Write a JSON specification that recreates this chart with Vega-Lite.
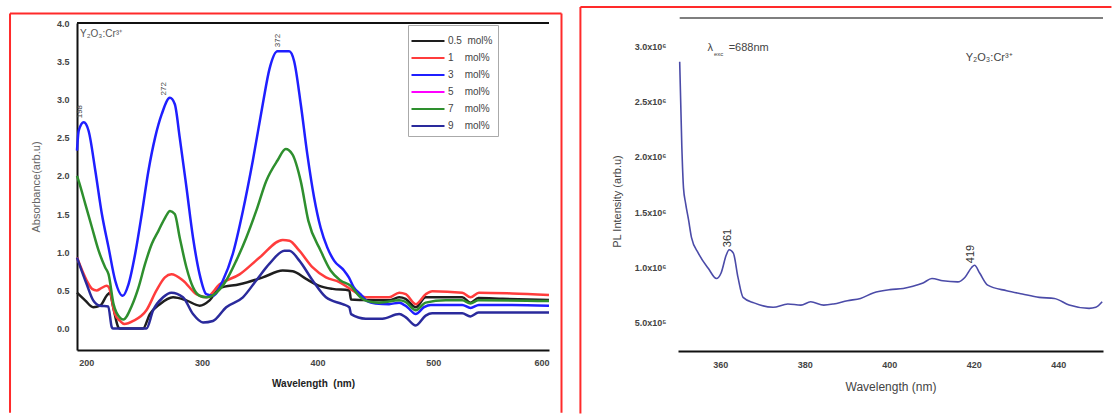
{
  "$schema": "https://vega.github.io/schema/vega-lite/v6.json",
  "padding": {"left": 9, "top": 5, "right": 0, "bottom": 0},
  "spacing": 16,
  "config": {
    "font": "Liberation Sans",
    "view": {"stroke": null},
    "axis": {"grid": false, "tickSize": 0, "labelFont": "Liberation Sans", "titleFont": "Liberation Sans"}
  },
  "datasets": {
    "frameL1": [{"a":134.1,"b":134.1,"c":-1.1,"d":4.124},{"a":134.1,"b":610.8,"c":4.124,"d":4.124}],
    "frameL2": [{"a":610.8,"b":610.8,"c":-1.1,"d":4.124}],
    "frameR": [{"a":326.9,"b":326.9,"c":-320000,"d":3355000},{"a":326.9,"b":452.6,"c":3355000,"d":3355000}],
    "topL": [{"a":192,"b":600,"c":4.0}],
    "topR": [{"a":350.4,"b":450.6,"c":3255000}],
    "abs": [
      {"s":"0.5 mol%","w":192,"v":0.47},{"s":"0.5 mol%","w":199,"v":0.37},{"s":"0.5 mol%","w":206,"v":0.28},{"s":"0.5 mol%","w":212,"v":0.30},{"s":"0.5 mol%","w":217.6,"v":0.43},{"s":"0.5 mol%","w":220.4,"v":0.47},{"s":"0.5 mol%","w":223.3,"v":0.28},{"s":"0.5 mol%","w":227.6,"v":0.02},{"s":"0.5 mol%","w":229,"v":0},{"s":"0.5 mol%","w":249,"v":0},{"s":"0.5 mol%","w":255,"v":0.19},{"s":"0.5 mol%","w":263.6,"v":0.32},{"s":"0.5 mol%","w":275,"v":0.41},{"s":"0.5 mol%","w":286.5,"v":0.37},{"s":"0.5 mol%","w":298,"v":0.30},{"s":"0.5 mol%","w":306.6,"v":0.37},{"s":"0.5 mol%","w":315.3,"v":0.53},{"s":"0.5 mol%","w":332.5,"v":0.58},{"s":"0.5 mol%","w":352.6,"v":0.67},{"s":"0.5 mol%","w":369.8,"v":0.76},{"s":"0.5 mol%","w":378.5,"v":0.75},{"s":"0.5 mol%","w":390,"v":0.65},{"s":"0.5 mol%","w":401.5,"v":0.56},{"s":"0.5 mol%","w":413,"v":0.52},{"s":"0.5 mol%","w":427.4,"v":0.50},{"s":"0.5 mol%","w":428.9,"v":0.38},{"s":"0.5 mol%","w":438.9,"v":0.375},{"s":"0.5 mol%","w":461.8,"v":0.37},{"s":"0.5 mol%","w":470.5,"v":0.41},{"s":"0.5 mol%","w":476,"v":0.39},{"s":"0.5 mol%","w":484.8,"v":0.28},{"s":"0.5 mol%","w":493.4,"v":0.41},{"s":"0.5 mol%","w":499,"v":0.41},{"s":"0.5 mol%","w":525,"v":0.41},{"s":"0.5 mol%","w":532,"v":0.34},{"s":"0.5 mol%","w":539,"v":0.40},{"s":"0.5 mol%","w":560,"v":0.39},{"s":"0.5 mol%","w":600,"v":0.375},
      {"s":"1 mol%","w":192,"v":0.93},{"s":"1 mol%","w":200.4,"v":0.63},{"s":"1 mol%","w":205,"v":0.52},{"s":"1 mol%","w":209,"v":0.50},{"s":"1 mol%","w":213,"v":0.53},{"s":"1 mol%","w":217.6,"v":0.56},{"s":"1 mol%","w":219.5,"v":0.54},{"s":"1 mol%","w":224.8,"v":0.19},{"s":"1 mol%","w":229.3,"v":0.10},{"s":"1 mol%","w":233,"v":0.06},{"s":"1 mol%","w":240.6,"v":0.10},{"s":"1 mol%","w":252,"v":0.24},{"s":"1 mol%","w":260.7,"v":0.50},{"s":"1 mol%","w":268,"v":0.67},{"s":"1 mol%","w":273.6,"v":0.71},{"s":"1 mol%","w":283.6,"v":0.63},{"s":"1 mol%","w":295.2,"v":0.45},{"s":"1 mol%","w":303.8,"v":0.41},{"s":"1 mol%","w":315.3,"v":0.58},{"s":"1 mol%","w":332.5,"v":0.71},{"s":"1 mol%","w":349.8,"v":0.93},{"s":"1 mol%","w":369.8,"v":1.16},{"s":"1 mol%","w":375.6,"v":1.15},{"s":"1 mol%","w":384.2,"v":1.02},{"s":"1 mol%","w":395.7,"v":0.80},{"s":"1 mol%","w":407.2,"v":0.67},{"s":"1 mol%","w":418.7,"v":0.61},{"s":"1 mol%","w":430.2,"v":0.50},{"s":"1 mol%","w":441.6,"v":0.41},{"s":"1 mol%","w":461.8,"v":0.41},{"s":"1 mol%","w":470.5,"v":0.47},{"s":"1 mol%","w":476.2,"v":0.45},{"s":"1 mol%","w":484.8,"v":0.32},{"s":"1 mol%","w":493.4,"v":0.45},{"s":"1 mol%","w":499.2,"v":0.49},{"s":"1 mol%","w":525,"v":0.47},{"s":"1 mol%","w":532.2,"v":0.41},{"s":"1 mol%","w":539.4,"v":0.47},{"s":"1 mol%","w":568,"v":0.46},{"s":"1 mol%","w":600,"v":0.44},
      {"s":"3 mol%","w":192,"v":2.33},{"s":"3 mol%","w":193.5,"v":2.59},{"s":"3 mol%","w":197.8,"v":2.70},{"s":"3 mol%","w":202,"v":2.59},{"s":"3 mol%","w":207.8,"v":2.07},{"s":"3 mol%","w":213.5,"v":1.50},{"s":"3 mol%","w":219.3,"v":1.06},{"s":"3 mol%","w":225,"v":0.63},{"s":"3 mol%","w":231.5,"v":0.43},{"s":"3 mol%","w":236.5,"v":0.58},{"s":"3 mol%","w":242.3,"v":0.98},{"s":"3 mol%","w":248,"v":1.50},{"s":"3 mol%","w":253.8,"v":2.07},{"s":"3 mol%","w":259.5,"v":2.50},{"s":"3 mol%","w":265.3,"v":2.81},{"s":"3 mol%","w":272.3,"v":3.02},{"s":"3 mol%","w":276.5,"v":2.94},{"s":"3 mol%","w":280.8,"v":2.50},{"s":"3 mol%","w":286.6,"v":1.85},{"s":"3 mol%","w":292.3,"v":1.19},{"s":"3 mol%","w":298,"v":0.71},{"s":"3 mol%","w":303.8,"v":0.45},{"s":"3 mol%","w":309.5,"v":0.43},{"s":"3 mol%","w":318.1,"v":0.63},{"s":"3 mol%","w":326.7,"v":0.98},{"s":"3 mol%","w":335.4,"v":1.54},{"s":"3 mol%","w":344,"v":2.20},{"s":"3 mol%","w":352.6,"v":2.94},{"s":"3 mol%","w":358.4,"v":3.40},{"s":"3 mol%","w":365.3,"v":3.63},{"s":"3 mol%","w":375.4,"v":3.63},{"s":"3 mol%","w":379.7,"v":3.50},{"s":"3 mol%","w":385.4,"v":2.94},{"s":"3 mol%","w":391.1,"v":2.28},{"s":"3 mol%","w":396.9,"v":1.72},{"s":"3 mol%","w":402.6,"v":1.32},{"s":"3 mol%","w":408.4,"v":1.06},{"s":"3 mol%","w":414.2,"v":0.89},{"s":"3 mol%","w":422.8,"v":0.76},{"s":"3 mol%","w":427,"v":0.67},{"s":"3 mol%","w":431.3,"v":0.54},{"s":"3 mol%","w":437,"v":0.45},{"s":"3 mol%","w":442.9,"v":0.36},{"s":"3 mol%","w":450,"v":0.33},{"s":"3 mol%","w":461.8,"v":0.32},{"s":"3 mol%","w":470.5,"v":0.34},{"s":"3 mol%","w":477.6,"v":0.28},{"s":"3 mol%","w":484.8,"v":0.19},{"s":"3 mol%","w":492,"v":0.28},{"s":"3 mol%","w":497.8,"v":0.31},{"s":"3 mol%","w":525,"v":0.31},{"s":"3 mol%","w":532.2,"v":0.27},{"s":"3 mol%","w":539.4,"v":0.31},{"s":"3 mol%","w":568,"v":0.31},{"s":"3 mol%","w":600,"v":0.30},
      {"s":"7 mol%","w":192,"v":2.00},{"s":"7 mol%","w":193.5,"v":1.93},{"s":"7 mol%","w":199.2,"v":1.63},{"s":"7 mol%","w":205,"v":1.32},{"s":"7 mol%","w":210.7,"v":1.02},{"s":"7 mol%","w":216.4,"v":0.80},{"s":"7 mol%","w":219.3,"v":0.71},{"s":"7 mol%","w":223.6,"v":0.32},{"s":"7 mol%","w":229.3,"v":0.14},{"s":"7 mol%","w":232,"v":0.12},{"s":"7 mol%","w":239.4,"v":0.30},{"s":"7 mol%","w":245.2,"v":0.54},{"s":"7 mol%","w":250.9,"v":0.85},{"s":"7 mol%","w":256.7,"v":1.11},{"s":"7 mol%","w":262.4,"v":1.28},{"s":"7 mol%","w":268.1,"v":1.45},{"s":"7 mol%","w":272.4,"v":1.54},{"s":"7 mol%","w":276.5,"v":1.50},{"s":"7 mol%","w":280.8,"v":1.19},{"s":"7 mol%","w":286.6,"v":0.80},{"s":"7 mol%","w":292.3,"v":0.54},{"s":"7 mol%","w":298,"v":0.43},{"s":"7 mol%","w":303.8,"v":0.41},{"s":"7 mol%","w":312.4,"v":0.47},{"s":"7 mol%","w":321,"v":0.63},{"s":"7 mol%","w":329.7,"v":0.89},{"s":"7 mol%","w":338.3,"v":1.19},{"s":"7 mol%","w":346.9,"v":1.54},{"s":"7 mol%","w":355.5,"v":1.93},{"s":"7 mol%","w":365.3,"v":2.20},{"s":"7 mol%","w":372.4,"v":2.35},{"s":"7 mol%","w":378.2,"v":2.28},{"s":"7 mol%","w":385.4,"v":1.93},{"s":"7 mol%","w":392,"v":1.41},{"s":"7 mol%","w":402.6,"v":1.02},{"s":"7 mol%","w":411.2,"v":0.76},{"s":"7 mol%","w":419.8,"v":0.63},{"s":"7 mol%","w":428.5,"v":0.56},{"s":"7 mol%","w":437,"v":0.41},{"s":"7 mol%","w":442.9,"v":0.36},{"s":"7 mol%","w":453.2,"v":0.34},{"s":"7 mol%","w":470.5,"v":0.37},{"s":"7 mol%","w":476,"v":0.35},{"s":"7 mol%","w":484.8,"v":0.24},{"s":"7 mol%","w":493.4,"v":0.34},{"s":"7 mol%","w":510.7,"v":0.37},{"s":"7 mol%","w":525,"v":0.37},{"s":"7 mol%","w":532,"v":0.33},{"s":"7 mol%","w":539,"v":0.37},{"s":"7 mol%","w":600,"v":0.36},
      {"s":"9 mol%","w":192,"v":0.93},{"s":"9 mol%","w":200.4,"v":0.58},{"s":"9 mol%","w":206,"v":0.37},{"s":"9 mol%","w":211.8,"v":0.30},{"s":"9 mol%","w":219,"v":0.29},{"s":"9 mol%","w":222,"v":0.02},{"s":"9 mol%","w":223,"v":0},{"s":"9 mol%","w":252,"v":0},{"s":"9 mol%","w":257.8,"v":0.24},{"s":"9 mol%","w":266.4,"v":0.41},{"s":"9 mol%","w":273.6,"v":0.47},{"s":"9 mol%","w":283.6,"v":0.41},{"s":"9 mol%","w":292.3,"v":0.19},{"s":"9 mol%","w":300.9,"v":0.08},{"s":"9 mol%","w":309.5,"v":0.10},{"s":"9 mol%","w":321,"v":0.28},{"s":"9 mol%","w":335.4,"v":0.41},{"s":"9 mol%","w":346.9,"v":0.63},{"s":"9 mol%","w":358.4,"v":0.85},{"s":"9 mol%","w":371.3,"v":1.02},{"s":"9 mol%","w":375.6,"v":1.02},{"s":"9 mol%","w":384.2,"v":0.89},{"s":"9 mol%","w":395.7,"v":0.63},{"s":"9 mol%","w":407.2,"v":0.41},{"s":"9 mol%","w":421.6,"v":0.32},{"s":"9 mol%","w":427.4,"v":0.28},{"s":"9 mol%","w":428.9,"v":0.19},{"s":"9 mol%","w":441.6,"v":0.13},{"s":"9 mol%","w":456,"v":0.13},{"s":"9 mol%","w":470.5,"v":0.19},{"s":"9 mol%","w":476,"v":0.15},{"s":"9 mol%","w":484.8,"v":0.04},{"s":"9 mol%","w":493.4,"v":0.17},{"s":"9 mol%","w":499,"v":0.20},{"s":"9 mol%","w":525,"v":0.20},{"s":"9 mol%","w":532,"v":0.16},{"s":"9 mol%","w":539,"v":0.21},{"s":"9 mol%","w":600,"v":0.21}
    ],
    "pl": [
      {"w":350.4,"v":2860000},{"w":350.9,"v":2100000},{"w":351.3,"v":1720000},{"w":351.8,"v":1580000},{"w":352.5,"v":1430000},{"w":353.2,"v":1270000},{"w":354.8,"v":1130000},{"w":357.2,"v":990000},{"w":359.1,"v":900000},{"w":360.2,"v":950000},{"w":361.4,"v":1110000},{"w":362.1,"v":1160000},{"w":363.1,"v":1130000},{"w":364.2,"v":910000},{"w":365.4,"v":730000},{"w":368,"v":680000},{"w":372.5,"v":640000},{"w":376,"v":670000},{"w":379.1,"v":660000},{"w":381.4,"v":690000},{"w":384.5,"v":660000},{"w":386.8,"v":670000},{"w":390.1,"v":700000},{"w":393.2,"v":720000},{"w":396.2,"v":770000},{"w":400.2,"v":800000},{"w":403.3,"v":810000},{"w":405.6,"v":830000},{"w":408,"v":860000},{"w":410.1,"v":900000},{"w":412.7,"v":880000},{"w":416.2,"v":870000},{"w":417.9,"v":910000},{"w":419.5,"v":1000000},{"w":420.2,"v":1020000},{"w":421.4,"v":950000},{"w":423.3,"v":840000},{"w":427.8,"v":790000},{"w":431.5,"v":760000},{"w":435.5,"v":730000},{"w":439.1,"v":720000},{"w":442.6,"v":660000},{"w":447.3,"v":630000},{"w":448.9,"v":640000},{"w":450.4,"v":690000}
    ],
    "absNotes": [
      {"w":194.6,"v":2.84,"t":"198"},{"w":267.2,"v":3.14,"t":"272"},{"w":365.7,"v":3.77,"t":"372"}
    ],
    "plNotes": [
      {"w":361.9,"v":1266000,"t":"361"},{"w":419.3,"v":1122000,"t":"419"}
    ]
  },
  "hconcat": [
    {
      "width": 472,
      "height": 327,
      "layer": [
        {
          "data": {"name": "frameL1"},
          "mark": {"type": "rule", "color": "#ff2a2a", "strokeWidth": 2},
          "encoding": {"x": {"field": "a", "type": "quantitative", "scale": {"domain": [192, 600], "nice": false, "zero": false}}, "x2": {"field": "b"}, "y": {"field": "c", "type": "quantitative", "scale": {"domain": [-0.28, 4.0], "nice": false, "zero": false}}, "y2": {"field": "d"}}
        },
        {
          "data": {"name": "frameL2"},
          "mark": {"type": "rule", "color": "#ff2a2a", "strokeWidth": 2},
          "encoding": {"x": {"field": "a", "type": "quantitative"}, "x2": {"field": "b"}, "y": {"field": "c", "type": "quantitative"}, "y2": {"field": "d"}}
        },
        {
          "data": {"name": "topL"},
          "mark": {"type": "rule", "color": "#111", "strokeWidth": 2},
          "encoding": {"x": {"field": "a", "type": "quantitative"}, "x2": {"field": "b"}, "y": {"field": "c", "type": "quantitative"}}
        },
        {
          "data": {"name": "abs"},
          "mark": {"type": "line", "strokeWidth": 2.5, "interpolate": "monotone"},
          "encoding": {
            "x": {"field": "w", "type": "quantitative", "scale": {"domain": [192, 600], "nice": false, "zero": false},
              "axis": {"values": [200, 300, 400, 500, 600], "title": "Wavelength\u00a0\u00a0(nm)", "titleFontWeight": "bold", "titleFontSize": 10, "titleColor": "#222", "titlePadding": 11, "labelFontWeight": "bold", "labelFontSize": 9, "labelColor": "#444", "labelPadding": 8, "domainColor": "#111", "domainWidth": 2}},
            "y": {"field": "v", "type": "quantitative", "scale": {"domain": [-0.28, 4.0], "nice": false, "zero": false},
              "axis": {"values": [0, 0.5, 1, 1.5, 2, 2.5, 3, 3.5, 4], "format": ".1f", "title": "Absorbance(arb.u)", "titleFontWeight": "normal", "titleFontSize": 11, "titleColor": "#666", "titlePadding": 15, "labelFontWeight": "bold", "labelFontSize": 9, "labelColor": "#444", "labelPadding": 8, "domainColor": "#111", "domainWidth": 2}},
            "color": {"field": "s", "type": "nominal",
              "scale": {"domain": ["0.5 mol%", "1 mol%", "3 mol%", "5 mol%", "7 mol%", "9 mol%"], "range": ["#1e1e1e", "#ff3c3c", "#1f1fff", "#ff00ff", "#2e8f2e", "#2a2a9c"]},
              "legend": {"orient": "none", "legendX": 331, "legendY": 2, "title": null, "symbolType": "M-1.65,0H1.65", "symbolSize": 400, "symbolOffset": 4, "symbolStrokeWidth": 2, "labelOffset": 9, "labelFontSize": 10, "labelColor": "#444", "strokeColor": "#aaa", "fillColor": "#fff", "padding": 5, "rowPadding": 1, "labelLimit": 300,
                "labelExpr": "length(split(datum.label,' ')[0]) > 1 ? replace(datum.label, ' ', '\u00a0\u00a0') : replace(datum.label, ' ', '\u00a0\u00a0\u00a0\u00a0')"}}
          }
        },
        {
          "data": {"values": [{"w": 194.6, "v": 3.856, "t": "Y₂O₃:Cr³⁺"}]},
          "mark": {"type": "text", "align": "left", "baseline": "middle", "fontSize": 10, "color": "#555"},
          "encoding": {"x": {"field": "w", "type": "quantitative"}, "y": {"field": "v", "type": "quantitative"}, "text": {"field": "t"}}
        },
        {
          "data": {"name": "absNotes"},
          "mark": {"type": "text", "angle": 270, "align": "center", "baseline": "middle", "fontSize": 8, "color": "#444"},
          "encoding": {"x": {"field": "w", "type": "quantitative"}, "y": {"field": "v", "type": "quantitative"}, "text": {"field": "t"}}
        }
      ]
    },
    {
      "width": 425,
      "height": 328,
      "layer": [
        {
          "data": {"name": "frameR"},
          "mark": {"type": "rule", "color": "#ff2a2a", "strokeWidth": 2},
          "encoding": {"x": {"field": "a", "type": "quantitative", "scale": {"domain": [350, 450.6], "nice": false, "zero": false}}, "x2": {"field": "b"}, "y": {"field": "c", "type": "quantitative", "scale": {"domain": [245000, 3210000], "nice": false, "zero": false}}, "y2": {"field": "d"}}
        },
        {
          "data": {"name": "topR"},
          "mark": {"type": "rule", "color": "#555", "strokeWidth": 1.5},
          "encoding": {"x": {"field": "a", "type": "quantitative"}, "x2": {"field": "b"}, "y": {"field": "c", "type": "quantitative"}}
        },
        {
          "data": {"name": "pl"},
          "mark": {"type": "line", "strokeWidth": 1.6, "color": "#4b4ba8", "interpolate": "monotone"},
          "encoding": {
            "x": {"field": "w", "type": "quantitative", "scale": {"domain": [350, 450.6], "nice": false, "zero": false},
              "axis": {"values": [360, 380, 400, 420, 440], "title": "Wavelength (nm)", "titleFontWeight": "normal", "titleFontSize": 12, "titleColor": "#444", "titlePadding": 12, "labelFontWeight": "bold", "labelFontSize": 9, "labelColor": "#444", "labelPadding": 9, "domainColor": "#111", "domainWidth": 2}},
            "y": {"field": "v", "type": "quantitative", "scale": {"domain": [245000, 3210000], "nice": false, "zero": false},
              "axis": {"values": [500000, 1000000, 1500000, 2000000, 2500000, 3000000], "labelExpr": "datum.value < 700000 ? '5.0x10⁵' : format(datum.value / 1000000, '.1f') + 'x10⁶'", "title": "PL Intensity (arb.u)", "titleFontWeight": "normal", "titleFontSize": 11, "titleColor": "#444", "titlePadding": 12, "titleY": 178, "labelFontWeight": "bold", "labelFontSize": 9, "labelColor": "#444", "labelPadding": 12, "domain": false}}
          }
        },
        {
          "data": {"name": "plNotes"},
          "mark": {"type": "text", "angle": 270, "align": "center", "baseline": "middle", "fontSize": 11, "color": "#333"},
          "encoding": {"x": {"field": "w", "type": "quantitative"}, "y": {"field": "v", "type": "quantitative"}, "text": {"field": "t"}}
        },
        {
          "data": {"values": [{"w": 357.0, "v": 2984000, "t": "λ"}]},
          "mark": {"type": "text", "align": "left", "baseline": "middle", "fontSize": 11, "color": "#444"},
          "encoding": {"x": {"field": "w", "type": "quantitative"}, "y": {"field": "v", "type": "quantitative"}, "text": {"field": "t"}}
        },
        {
          "data": {"values": [{"w": 358.5, "v": 2930000, "t": "exc"}]},
          "mark": {"type": "text", "align": "left", "baseline": "middle", "fontSize": 6, "color": "#444"},
          "encoding": {"x": {"field": "w", "type": "quantitative"}, "y": {"field": "v", "type": "quantitative"}, "text": {"field": "t"}}
        },
        {
          "data": {"values": [{"w": 362.0, "v": 2984000, "t": "=688nm"}]},
          "mark": {"type": "text", "align": "left", "baseline": "middle", "fontSize": 11, "color": "#444"},
          "encoding": {"x": {"field": "w", "type": "quantitative"}, "y": {"field": "v", "type": "quantitative"}, "text": {"field": "t"}}
        },
        {
          "data": {"values": [{"w": 418.1, "v": 2893000, "t": "Y₂O₃:Cr³⁺"}]},
          "mark": {"type": "text", "align": "left", "baseline": "middle", "fontSize": 11, "color": "#444"},
          "encoding": {"x": {"field": "w", "type": "quantitative"}, "y": {"field": "v", "type": "quantitative"}, "text": {"field": "t"}}
        }
      ]
    }
  ]
}
